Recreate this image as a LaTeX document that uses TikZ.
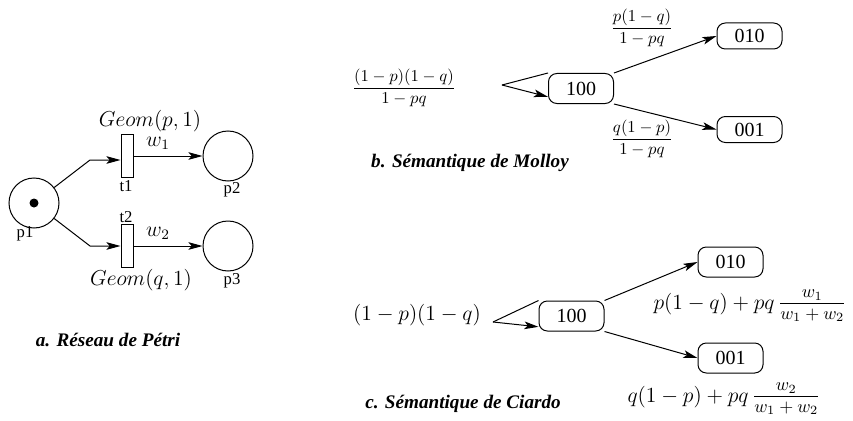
\documentclass[tikz,border=0pt]{standalone}
\usepackage{fontspec}
\setmainfont{Liberation Serif}
\usetikzlibrary{arrows.meta}
% small weight fraction, letters kept at 10pt
\newcommand{\wfrac}[2]{\frac{\raisebox{1.5pt}{\fontsize{10}{12}\selectfont$#1$}}%
  {\raisebox{-1.5pt}{\fontsize{10}{12}\selectfont$#2$}}}

\begin{document}
\begin{tikzpicture}[x=0.6pt, y=-0.6pt, line width=0.6pt,
  place/.style={draw, circle, minimum size=30pt, inner sep=0pt},
  trans/.style={draw, minimum width=7.2pt, minimum height=25.8pt, inner sep=0pt},
  token/.style={fill, circle, minimum size=5.4pt, inner sep=0pt},
  state/.style={draw, rounded corners=5pt, minimum width=39pt,
                minimum height=18pt, inner sep=0pt,
                font=\fontsize{12}{14}\selectfont},
  arr/.style={-{Stealth[length=8.5pt,width=4.6pt,inset=2pt]}},
  lbl/.style={font=\fontsize{10}{12}\selectfont, inner sep=0pt},
  mth/.style={font=\fontsize{12}{14}\selectfont, inner sep=0pt,
              scale=1.08, transform shape},
  subcap/.style={font=\fontsize{11.5}{13}\selectfont\bfseries\itshape}
]
  \useasboundingbox (0,0) rectangle (853,420);

  % a. Petri net
  \node[place] at (34,203)  (p1) {};
  \node[token] at (34,203)  (tk) {};
  \node[trans] at (127,156) (t1) {};
  \node[trans] at (127,246) (t2) {};
  \node[place] at (228,156) (p2) {};
  \node[place] at (228,246) (p3) {};
  \coordinate (k1) at (90,160);
  \coordinate (k2) at (90,246);

  \node[lbl] at (25,234)  {p1};
  \node[lbl] at (126,186) {t1};
  \node[lbl] at (126,217) {t2};
  \node[lbl] at (232,190) {p2};
  \node[lbl] at (232,281) {p3};
  \node[mth] at (150,121) {$Geom(p,1)$};
  \node[mth] at (141,280) {$Geom(q,1)$};
  \node[mth] at (158,143) {$w_1$};
  \node[mth] at (158,233) {$w_2$};

  \draw[arr] (p1) -- (k1) -- (k1 -| t1.west);
  \draw[arr] (p1) -- (k2) -- (t2.west);
  \draw[arr] (t1.east) -- (p2);
  \draw[arr] (t2.east) -- (p3);

  \node[subcap] at (108,340) {a. Réseau de Pétri};

  % b. Molloy
  \node[state] at (581,88.5) (m100) {100};
  \node[state, minimum height=15.6pt] at (749.5,36)    (m010) {010};
  \node[state, minimum height=15.6pt] at (749.5,129.5) (m001) {001};
  \coordinate (m0) at (502,85);

  \draw (m100.north west) -- (m0);
  \draw[arr] (m0) -- ([yshift=-5pt]m100.west);
  \draw[arr] (m100.north east) -- (m010.west);
  \draw[arr] (m100.south east) -- (m001.west);

  \node at (404,88)  {$\displaystyle\frac{(1-p)(1-q)}{1-pq}$};
  \node at (642,28)  {$\displaystyle\frac{p(1-q)}{1-pq}$};
  \node at (642,139) {$\displaystyle\frac{q(1-p)}{1-pq}$};

  \node[subcap] at (470,163) {b. Sémantique de Molloy};

  % c. Ciardo
  \node[state] at (571.5,316) (c100) {100};
  \node[state] at (730.5,262) (c010) {010};
  \node[state] at (730.5,358) (c001) {001};
  \coordinate (c0) at (493,322);

  \draw (c100.north west) -- (c0);
  \draw[arr] (c0) -- ([yshift=-6.5pt]c100.west);
  \draw[arr] (c100.north east) -- (c010.west);
  \draw[arr] (c100.south east) -- (c001.west);

  \node[mth] at (417,315) {$(1-p)(1-q)$};
  \node[mth] at (750,306) {$p(1-q)+pq\,\wfrac{w_1}{w_1+w_2}$};
  \node[mth] at (724,399) {$q(1-p)+pq\,\wfrac{w_2}{w_1+w_2}$};

  \node[subcap] at (463,404) {c. Sémantique de Ciardo};

\end{tikzpicture}
\end{document}
